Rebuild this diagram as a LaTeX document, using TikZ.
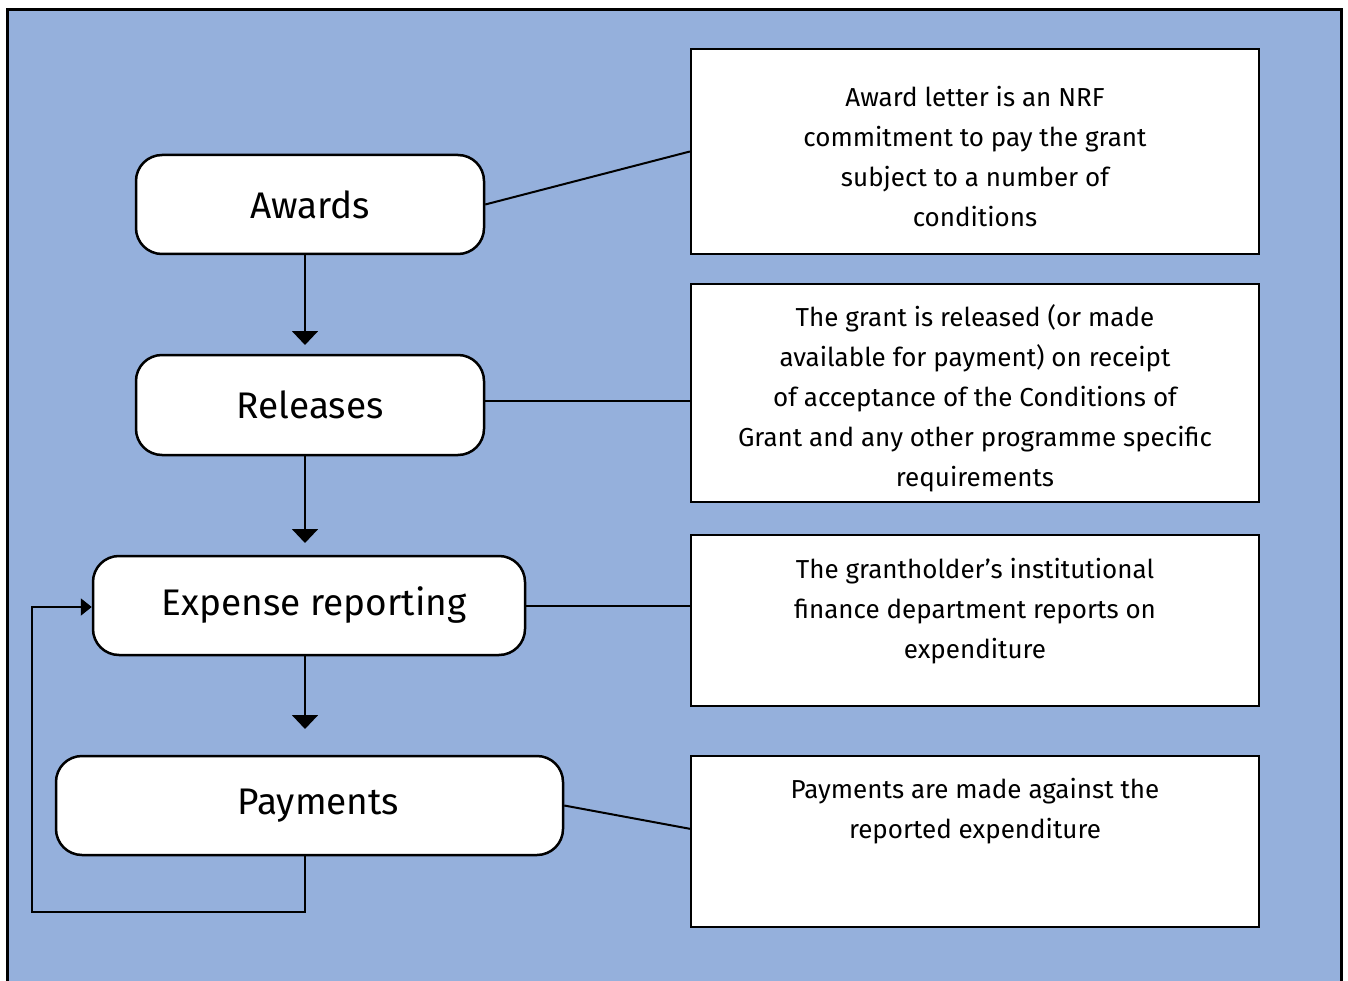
\documentclass[tikz,border=0pt]{standalone}
\usepackage{fontspec}
\setmainfont{Fira Sans}
\usetikzlibrary{arrows.meta}
\definecolor{bgblue}{HTML}{95B0DC}
\begin{document}
\begin{tikzpicture}[x=1pt,y=-1pt,
  stage/.style={draw=black,line width=2.5pt,fill=white,rounded corners=26pt,inner sep=0pt,font=\fontsize{37}{40}\selectfont},
  infobox/.style={draw=black,line width=2.2pt,fill=white,inner sep=0pt},
  infotext/.style={align=center,font=\fontsize{26}{40}\selectfont,inner sep=0pt},
  conn/.style={line width=2pt},
  flow/.style={line width=2pt,-{Triangle[width=26pt,length=14pt]}},
  loop/.style={line width=2pt,-{Triangle[width=17pt,length=11pt]}}]
\useasboundingbox (0,0) rectangle (1348,981);
\begin{scope}
\clip (0,0) rectangle (1348,981);
\draw[line width=3pt,fill=bgblue] (7,10) rectangle (1341,1000);
\end{scope}
% stages
\node[stage,minimum width=348pt,minimum height=99pt] (awards) at (310,204.5) {Awards};
\node[stage,minimum width=348pt,minimum height=100pt] (releases) at (310,405) {Releases\hspace{7pt}};
\node[stage,minimum width=432pt,minimum height=99pt] (expense) at (309,605.5) {\hspace{10pt}Expense reporting};
\node[stage,minimum width=507pt,minimum height=99pt] (payments) at (309.5,805.5) {\hspace{18pt}Payments};
% info boxes
\node[infobox,minimum width=568pt,minimum height=205pt] (b1) at (975,151.5) {};
\node[infobox,minimum width=568pt,minimum height=218pt] (b2) at (975,393) {};
\node[infobox,minimum width=568pt,minimum height=171pt] (b3) at (975,620.5) {};
\node[infobox,minimum width=568pt,minimum height=171pt] (b4) at (975,841.5) {};
\node[infotext] (t1) at (975,157) {Award letter is an NRF\\commitment to pay the grant\\subject to a number of\\conditions};
\node[infotext] (t2) at (975,398) {The grant is released (or made\\available for payment) on receipt\\of acceptance of the Conditions of\\Grant and any other programme specific\\requirements};
\node[infotext] (t3) at (975,611) {The grantholder’s institutional\\finance department reports on\\expenditure};
\node[infotext] (t4) at (975,811) {Payments are made against the\\reported expenditure};
% connectors
\coordinate (c2) at (484,401);
\coordinate (c4) at (691,829);
\draw[conn] (awards.east) -- (b1.west);
\draw[conn] (c2) -- (b2.west |- c2);
\draw[conn] (expense.east) -- (b3.west |- expense.east);
\draw[conn] (payments.east) -- (c4);
% flow arrows
\coordinate (a1) at (305,345);
\coordinate (a2) at (305,543);
\coordinate (a3) at (305,729);
\draw[flow] (awards.south -| a1) -- (a1);
\draw[flow] (releases.south -| a2) -- (a2);
\draw[flow] (expense.south -| a3) -- (a3);
\coordinate (l1) at (305,912);
\coordinate (l2) at (32,912);
\coordinate (l3) at (32,607);
\draw[loop] (payments.south -| l1) -- (l1) -- (l2) -- (l3) -- (expense.west |- l3);
\end{tikzpicture}
\end{document}
